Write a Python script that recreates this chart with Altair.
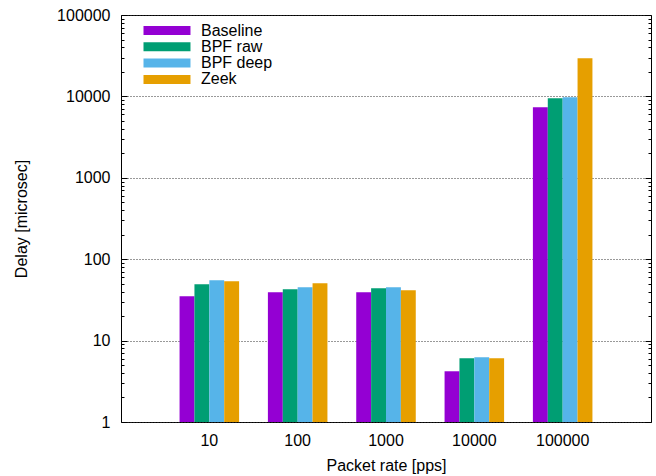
import altair as alt
import pandas as pd

rates = ["10", "100", "1000", "10000", "100000"]
series = ["Baseline", "BPF raw", "BPF deep", "Zeek"]
baseline = [35.0, 39.2, 39.2, 4.2, 7350]
bpf_raw = [49.2, 42.7, 43.9, 6.07, 9480]
bpf_deep = [55.1, 45.2, 45.2, 6.24, 9750]
zeek = [53.6, 50.6, 41.5, 6.07, 29400]
colors = ["#9400d3", "#009e73", "#56b4e9", "#e69f00"]
major_ticks = [1, 10, 100, 1000, 10000, 100000]
minor_ticks = [m * d for d in [1, 10, 100, 1000, 10000] for m in range(2, 10)]

rows = []
for name, vals in zip(series, [baseline, bpf_raw, bpf_deep, zeek]):
    for r, v in zip(rates, vals):
        rows.append({"rate": r, "series": name, "delay": v})
df = pd.DataFrame(rows)

W, H = 530, 407
FONT = "Liberation Sans"
yscale = alt.Scale(type="log", domain=[1, 100000])

base = alt.Chart(df)

bars = base.mark_bar().encode(
    x=alt.X("rate:N", sort=rates,
            scale=alt.Scale(paddingInner=0.326, paddingOuter=0.663),
            axis=alt.Axis(title="Packet rate [pps]", labelAngle=0, ticks=False,
                          domain=False, labelPadding=10, titlePadding=9,
                          labelFontSize=16, titleFontSize=16,
                          titleFontWeight="normal", labelColor="black",
                          titleColor="black")),
    xOffset=alt.XOffset("series:N", sort=series,
                        scale=alt.Scale(paddingInner=0, paddingOuter=0)),
    y=alt.Y("delay:Q", scale=yscale,
            axis=alt.Axis(orient="left", values=major_ticks, format="d",
                          title="Delay [microsec]", ticks=False, domain=False,
                          labelPadding=11, titlePadding=27, labelFontSize=16,
                          titleFontSize=16, titleFontWeight="normal",
                          labelColor="black", titleColor="black",
                          grid=True, gridColor="#333", gridDash=[1, 2],
                          gridWidth=1, gridOpacity=1)),
    y2=alt.datum(1),
    color=alt.Color("series:N", sort=series,
                    scale=alt.Scale(domain=series, range=colors),
                    legend=alt.Legend(title=None, orient="none", legendX=19,
                                      legendY=7.5, padding=0,
                                      symbolType="M-1,-1H9.44V1H-1Z",
                                      symbolSize=81, symbolStrokeWidth=0,
                                      symbolOpacity=1, labelFontSize=16,
                                      labelOffset=45, rowPadding=0.3,
                                      labelColor="black", labelLimit=300)),
)


def tick_layer(orient, values, size):
    return base.mark_point(opacity=0).encode(
        y=alt.Y("delay:Q", scale=yscale,
                axis=alt.Axis(orient=orient, offset=-W, values=values,
                              tickSize=size, tickColor="black", tickWidth=1,
                              labels=False, domain=False, grid=False,
                              title=None))
    )


chart = alt.layer(
    bars,
    tick_layer("right", major_ticks, 6),
    tick_layer("right", minor_ticks, 3),
    tick_layer("left", major_ticks, 6),
    tick_layer("left", minor_ticks, 3),
).resolve_axis(y="independent").properties(
    width=W, height=H,
    autosize=alt.AutoSizeParams(type="none"),
    padding={"left": 121, "top": 15, "right": 5, "bottom": 54},
).configure(font=FONT).configure_view(stroke="black", strokeWidth=1)

chart.save("out.html", embed_options={"renderer": "svg", "actions": False})
